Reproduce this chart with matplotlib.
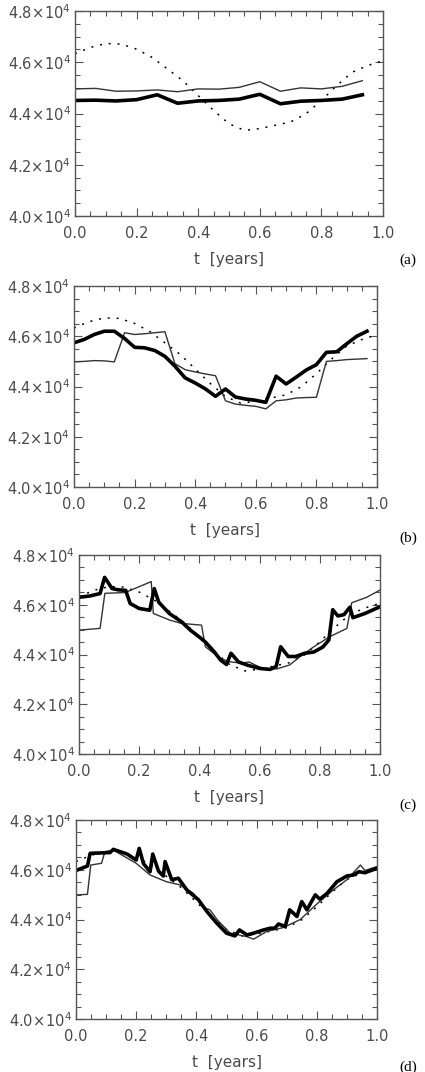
import numpy as np
import matplotlib.pyplot as plt
from matplotlib.ticker import MultipleLocator, FuncFormatter

# values in units of 1e4
t_true = [0.0, 0.05, 0.1, 0.15, 0.2, 0.25, 0.3, 0.35, 0.4, 0.45, 0.5,
          0.55, 0.6, 0.65, 0.7, 0.75, 0.8, 0.85, 0.9, 0.95, 1.0]
v_true = [4.633, 4.658, 4.673, 4.671, 4.651, 4.619, 4.574, 4.528, 4.470, 4.412, 4.360,
          4.334, 4.341, 4.354, 4.367, 4.399, 4.451, 4.509, 4.561, 4.587, 4.606]

# panel (a)
t_a = [0.0, 0.067, 0.133, 0.2, 0.267, 0.333, 0.4, 0.467, 0.533, 0.6, 0.667, 0.733, 0.8, 0.867, 0.933]
thin_a = [4.496, 4.498, 4.487, 4.488, 4.492, 4.485, 4.496, 4.495, 4.502, 4.524, 4.487, 4.500, 4.496, 4.506, 4.528]
thick_a = [4.451, 4.452, 4.449, 4.454, 4.473, 4.440, 4.449, 4.451, 4.456, 4.475, 4.438, 4.448, 4.451, 4.456, 4.473]

# panel (b)
t_b = [0.0, 0.033, 0.067, 0.1, 0.133, 0.167, 0.2, 0.233, 0.267, 0.3,
       0.333, 0.367, 0.4, 0.433, 0.467, 0.5, 0.533, 0.567, 0.6, 0.633,
       0.667, 0.7, 0.733, 0.767, 0.8, 0.833, 0.867, 0.9, 0.933, 0.967]
thick_b = [4.574, 4.587, 4.607, 4.620, 4.620, 4.591, 4.556, 4.554, 4.543, 4.520,
           4.481, 4.434, 4.414, 4.391, 4.361, 4.390, 4.358, 4.350, 4.345, 4.337,
           4.441, 4.410, 4.437, 4.466, 4.487, 4.536, 4.538, 4.570, 4.600, 4.620]
thin_b = [4.498, 4.500, 4.503, 4.502, 4.498, 4.614, 4.607, 4.610, 4.614, 4.618,
          4.491, 4.467, 4.458, 4.450, 4.443, 4.343, 4.330, 4.325, 4.321, 4.311,
          4.343, 4.347, 4.354, 4.356, 4.357, 4.500, 4.503, 4.507, 4.509, 4.511]

# panel (c)
t_c_thick = [0.0, 0.035, 0.07, 0.085, 0.11, 0.13, 0.155, 0.17, 0.2, 0.235, 0.25, 0.265,
             0.3, 0.34, 0.37, 0.4, 0.42, 0.45, 0.47, 0.49, 0.505, 0.53, 0.56, 0.6,
             0.635, 0.655, 0.67, 0.695, 0.72, 0.75, 0.78, 0.81, 0.83, 0.843, 0.86,
             0.88, 0.9, 0.91, 0.95, 1.0]
thick_c = [4.630, 4.635, 4.645, 4.710, 4.665, 4.660, 4.658, 4.605, 4.585, 4.578, 4.665, 4.610,
           4.565, 4.532, 4.498, 4.470, 4.450, 4.410, 4.378, 4.360, 4.405, 4.370, 4.357, 4.344,
           4.340, 4.352, 4.431, 4.392, 4.392, 4.405, 4.410, 4.430, 4.458, 4.580, 4.555,
           4.560, 4.590, 4.548, 4.565, 4.592]
t_c_thin = [0.0, 0.07, 0.086, 0.153, 0.24, 0.247, 0.3, 0.34, 0.407, 0.42, 0.47, 0.5,
            0.54, 0.565, 0.585, 0.61, 0.657, 0.7, 0.734, 0.78, 0.834, 0.89, 0.906, 0.956, 1.0]
thin_c = [4.498, 4.505, 4.646, 4.649, 4.693, 4.565, 4.539, 4.525, 4.518, 4.431, 4.384, 4.371,
          4.365, 4.370, 4.358, 4.344, 4.342, 4.358, 4.391, 4.431, 4.472, 4.505, 4.608, 4.630, 4.659]

# panel (d)
t_d_thick = [0.0, 0.038, 0.047, 0.113, 0.124, 0.17, 0.2, 0.21, 0.224, 0.246, 0.255, 0.274,
             0.29, 0.296, 0.318, 0.34, 0.368, 0.407, 0.435, 0.468, 0.5, 0.528, 0.543, 0.568,
             0.59, 0.623, 0.645, 0.66, 0.673, 0.695, 0.71, 0.734, 0.75, 0.767, 0.795, 0.81,
             0.834, 0.867, 0.9, 0.922, 0.94, 0.96, 1.0]
thick_d = [4.597, 4.615, 4.666, 4.669, 4.682, 4.663, 4.639, 4.686, 4.625, 4.592, 4.663, 4.595,
           4.575, 4.633, 4.560, 4.566, 4.519, 4.479, 4.432, 4.385, 4.345, 4.334, 4.358, 4.338,
           4.345, 4.358, 4.365, 4.365, 4.382, 4.372, 4.439, 4.412, 4.472, 4.439, 4.499, 4.482,
           4.505, 4.552, 4.575, 4.579, 4.592, 4.588, 4.606]
t_d_thin = [0.0, 0.038, 0.049, 0.085, 0.096, 0.124, 0.2, 0.246, 0.3, 0.346, 0.39, 0.43,
            0.445, 0.47, 0.512, 0.568, 0.59, 0.634, 0.69, 0.745, 0.8, 0.856, 0.9, 0.945, 0.96, 1.0]
thin_d = [4.499, 4.501, 4.619, 4.626, 4.673, 4.679, 4.626, 4.579, 4.552, 4.539, 4.505, 4.445,
          4.439, 4.398, 4.345, 4.331, 4.321, 4.352, 4.368, 4.400, 4.462, 4.520, 4.560, 4.619, 4.597, 4.613]

panels = [
    ('(a)', t_a, thick_a, t_a, thin_a),
    ('(b)', t_b, thick_b, t_b, thin_b),
    ('(c)', t_c_thick, thick_c, t_c_thin, thin_c),
    ('(d)', t_d_thick, thick_d, t_d_thin, thin_d),
]

# frame boxes in pixels: left, right, top, bottom
boxes = [(75, 383, 11, 216), (74, 377, 286, 487), (79, 380, 555, 754), (76, 377, 820, 1019)]
tag_y = [260, 538, 805, 1067]

W, H = 425, 1072
fig = plt.figure(figsize=(W / 100, H / 100), dpi=100)
txt = '#4a4a4a'


def yfmt(v, pos):
    return r'$%.1f\!\times\!10^{4}$' % (v / 1e4)


for (tag, tk, vk, tn, vn), (l, r, top, bot), ty in zip(panels, boxes, tag_y):
    ax = fig.add_axes([l / W, 1 - bot / H, (r - l) / W, (bot - top) / H])
    ax.plot(t_true, np.array(v_true) * 1e4, color='black', lw=1.1, ls=(0, (1.3, 4.5)))
    ax.plot(tn, np.array(vn) * 1e4, color='#333333', lw=1.0)
    ax.plot(tk, np.array(vk) * 1e4, color='black', lw=2.6)
    ax.set_xlim(0, 1)
    ax.set_ylim(40000, 48000)
    ax.xaxis.set_major_locator(MultipleLocator(0.2))
    ax.xaxis.set_minor_locator(MultipleLocator(0.05))
    ax.yaxis.set_major_locator(MultipleLocator(2000))
    ax.yaxis.set_minor_locator(MultipleLocator(500))
    ax.xaxis.set_major_formatter(FuncFormatter(lambda v, p: '%.1f' % v))
    ax.yaxis.set_major_formatter(FuncFormatter(yfmt))
    ax.tick_params(which='both', direction='in', top=True, right=True,
                   colors='#555555', labelcolor=txt, labelsize=10.5, width=0.8)
    ax.tick_params(which='major', length=6)
    ax.tick_params(which='minor', length=3.5)
    ax.tick_params(axis='x', pad=7)
    ax.tick_params(axis='y', pad=3)
    for s in ax.spines.values():
        s.set_color('#555555')
        s.set_linewidth(1.0)
    ax.set_xlabel('t  [years]', fontsize=11, color=txt, labelpad=8)
    fig.text(408 / W, 1 - ty / H, tag, ha='center', va='center',
             family='Liberation Serif', fontsize=11, color='black')

fig.savefig('out.png', dpi=100)
